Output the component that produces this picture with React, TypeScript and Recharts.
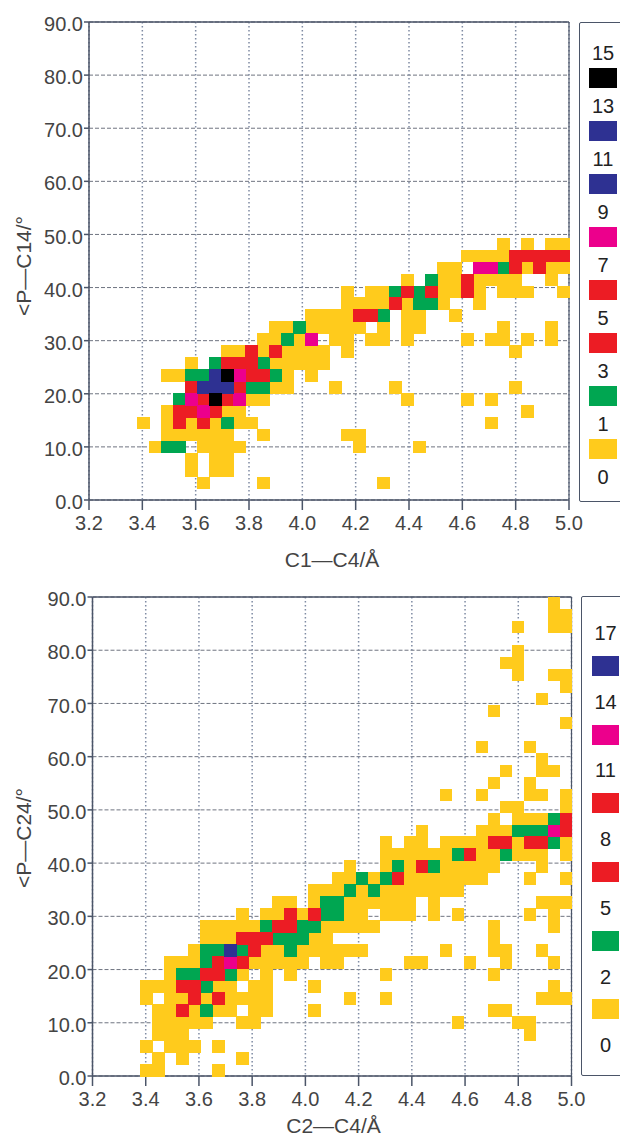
import { CartesianGrid, ReferenceLine, Scatter, ScatterChart, XAxis, YAxis } from "recharts"

type Run = [row: number, from: number, to: number, count: number]

const xTicks = [3.2, 3.4, 3.6, 3.8, 4.0, 4.2, 4.4, 4.6, 4.8, 5.0]
const yTicks = [0, 10, 20, 30, 40, 50, 60, 70, 80, 90]

const X_MIN = 3.2
const X_BIN = 0.045
const Y_BIN = 2.25

const YELLOW = "#ffcb1c"
const GREEN = "#00a651"
const RED = "#ec1c24"
const PINK = "#ec008c"
const BLUE = "#2e3192"
const BLACK = "#000000"

// legend of the upper plot, top to bottom
const topLegendLabels = [15, 13, 11, 9, 7, 5, 3, 1, 0]
const topLegendColors = [BLACK, BLUE, BLUE, PINK, RED, RED, GREEN, YELLOW]
const topLevels = [1, 3, 5, 9, 11, 15]
const topLevelColors = [YELLOW, GREEN, RED, PINK, BLUE, BLACK]

// legend of the lower plot
const bottomLegendLabels = [17, 14, 11, 8, 5, 2, 0]
const bottomLegendColors = [BLUE, PINK, RED, RED, GREEN, YELLOW]
const bottomLevels = [2, 5, 8, 14, 17]
const bottomLevelColors = [YELLOW, GREEN, RED, PINK, BLUE]

// histogram bins: row, first col, last col, count
const topRuns: Run[] = [
  [1, 9, 9, 1], [1, 14, 14, 1], [1, 24, 24, 1],
  [2, 8, 8, 1], [2, 10, 11, 1],
  [3, 8, 8, 1], [3, 10, 11, 1],
  [4, 5, 5, 1], [4, 6, 7, 3], [4, 9, 12, 1], [4, 22, 22, 1], [4, 27, 27, 1],
  [5, 6, 11, 1], [5, 14, 14, 1], [5, 21, 22, 1],
  [6, 4, 4, 1], [6, 6, 6, 1], [6, 7, 7, 5], [6, 8, 8, 1], [6, 9, 9, 5], [6, 10, 10, 1], [6, 11, 11, 3], [6, 12, 13, 1], [6, 33, 33, 1],
  [7, 6, 6, 1], [7, 7, 8, 5], [7, 9, 9, 9], [7, 10, 10, 5], [7, 11, 12, 1], [7, 36, 36, 1],
  [8, 7, 7, 3], [8, 8, 8, 9], [8, 9, 9, 5], [8, 10, 10, 15], [8, 11, 11, 5], [8, 12, 12, 9], [8, 13, 14, 1], [8, 26, 26, 1], [8, 31, 31, 1], [8, 33, 33, 1],
  [9, 8, 8, 5], [9, 9, 11, 11], [9, 12, 12, 5], [9, 13, 14, 3], [9, 15, 16, 1], [9, 20, 20, 1], [9, 25, 25, 1], [9, 35, 35, 1],
  [10, 6, 7, 1], [10, 8, 9, 3], [10, 10, 10, 11], [10, 11, 11, 15], [10, 12, 12, 9], [10, 13, 14, 5], [10, 15, 15, 3], [10, 16, 16, 1], [10, 18, 18, 1],
  [11, 8, 8, 1], [11, 10, 10, 3], [11, 11, 13, 5], [11, 14, 14, 3], [11, 15, 19, 1],
  [12, 11, 12, 1], [12, 13, 13, 5], [12, 14, 14, 1], [12, 15, 15, 5], [12, 16, 19, 1], [12, 21, 21, 1], [12, 35, 35, 1],
  [13, 14, 15, 1], [13, 16, 16, 3], [13, 17, 17, 1], [13, 18, 18, 9], [13, 20, 21, 1], [13, 23, 24, 1], [13, 26, 26, 1], [13, 31, 31, 1], [13, 33, 34, 1], [13, 36, 36, 1], [13, 38, 38, 1],
  [14, 15, 16, 1], [14, 17, 17, 3], [14, 18, 22, 1], [14, 24, 24, 1], [14, 26, 27, 1], [14, 34, 34, 1], [14, 38, 38, 1],
  [15, 18, 21, 1], [15, 22, 23, 5], [15, 24, 24, 3], [15, 26, 27, 1], [15, 30, 30, 1],
  [16, 21, 24, 1], [16, 25, 25, 5], [16, 26, 26, 1], [16, 27, 28, 3], [16, 29, 29, 1], [16, 32, 32, 1],
  [17, 21, 21, 1], [17, 23, 24, 1], [17, 25, 25, 3], [17, 26, 26, 5], [17, 27, 27, 3], [17, 28, 28, 5], [17, 29, 30, 1], [17, 31, 31, 5], [17, 32, 32, 1], [17, 34, 36, 1], [17, 39, 39, 1],
  [18, 26, 26, 1], [18, 28, 28, 3], [18, 29, 30, 1], [18, 31, 31, 5], [18, 32, 35, 1], [18, 38, 38, 1],
  [19, 29, 30, 1], [19, 32, 33, 9], [19, 34, 34, 3], [19, 35, 35, 5], [19, 36, 36, 1], [19, 37, 37, 5], [19, 38, 39, 1],
  [20, 31, 34, 1], [20, 35, 39, 5],
  [21, 34, 34, 1], [21, 36, 36, 1], [21, 38, 39, 1],
]

const bottomRuns: Run[] = [
  [0, 4, 5, 2], [0, 10, 10, 2],
  [1, 5, 5, 2], [1, 7, 7, 2], [1, 12, 12, 2],
  [2, 4, 4, 2], [2, 6, 8, 2], [2, 10, 10, 2],
  [3, 5, 7, 2], [3, 36, 36, 2],
  [4, 5, 9, 2], [4, 12, 13, 2], [4, 30, 30, 2], [4, 35, 36, 2],
  [5, 5, 6, 2], [5, 7, 7, 8], [5, 8, 8, 2], [5, 9, 9, 5], [5, 10, 11, 2], [5, 13, 14, 2], [5, 18, 18, 2], [5, 33, 34, 2],
  [6, 4, 4, 2], [6, 6, 7, 2], [6, 8, 8, 8], [6, 9, 9, 2], [6, 10, 10, 8], [6, 11, 14, 2], [6, 21, 21, 2], [6, 24, 24, 2], [6, 37, 39, 2],
  [7, 4, 6, 2], [7, 7, 8, 8], [7, 9, 9, 5], [7, 10, 11, 2], [7, 13, 14, 2], [7, 18, 18, 2], [7, 38, 38, 2],
  [8, 6, 6, 2], [8, 7, 8, 5], [8, 9, 10, 8], [8, 11, 11, 5], [8, 12, 12, 2], [8, 14, 14, 2], [8, 16, 16, 2], [8, 24, 24, 2], [8, 33, 33, 2],
  [9, 6, 8, 2], [9, 9, 9, 5], [9, 10, 10, 8], [9, 11, 11, 14], [9, 12, 12, 8], [9, 13, 17, 2], [9, 19, 20, 2], [9, 26, 27, 2], [9, 31, 31, 2], [9, 34, 34, 2], [9, 38, 38, 2],
  [10, 8, 8, 2], [10, 9, 10, 5], [10, 11, 11, 17], [10, 12, 12, 5], [10, 13, 13, 8], [10, 14, 15, 2], [10, 16, 16, 5], [10, 17, 22, 2], [10, 29, 29, 2], [10, 33, 34, 2], [10, 37, 37, 2],
  [11, 9, 11, 2], [11, 12, 14, 8], [11, 15, 17, 5], [11, 18, 19, 2], [11, 33, 33, 2],
  [12, 9, 13, 2], [12, 14, 14, 5], [12, 15, 16, 8], [12, 17, 18, 5], [12, 19, 23, 2], [12, 33, 33, 2], [12, 38, 38, 2],
  [13, 12, 12, 2], [13, 14, 15, 2], [13, 16, 16, 8], [13, 17, 17, 2], [13, 18, 18, 8], [13, 19, 20, 5], [13, 21, 22, 2], [13, 24, 26, 2], [13, 28, 28, 2], [13, 30, 30, 2], [13, 36, 36, 2], [13, 38, 38, 2],
  [14, 15, 16, 2], [14, 18, 18, 2], [14, 19, 20, 5], [14, 21, 26, 2], [14, 28, 28, 2], [14, 37, 39, 2],
  [15, 18, 20, 2], [15, 21, 21, 5], [15, 22, 22, 2], [15, 23, 23, 5], [15, 24, 30, 2],
  [16, 20, 21, 2], [16, 22, 22, 5], [16, 23, 23, 2], [16, 24, 24, 5], [16, 25, 25, 8], [16, 26, 32, 2], [16, 36, 36, 2], [16, 39, 39, 2],
  [17, 21, 21, 2], [17, 24, 24, 2], [17, 25, 25, 5], [17, 26, 26, 2], [17, 27, 27, 8], [17, 28, 28, 5], [17, 29, 33, 2], [17, 37, 37, 2],
  [18, 24, 29, 2], [18, 30, 30, 5], [18, 31, 31, 8], [18, 32, 33, 2], [18, 34, 34, 5], [18, 35, 37, 2], [18, 39, 39, 2],
  [19, 24, 24, 2], [19, 26, 27, 2], [19, 29, 32, 2], [19, 33, 34, 8], [19, 35, 35, 2], [19, 36, 37, 8], [19, 38, 38, 5], [19, 39, 39, 2],
  [20, 27, 27, 2], [20, 32, 34, 2], [20, 35, 37, 5], [20, 38, 38, 14], [20, 39, 39, 8],
  [21, 33, 33, 2], [21, 35, 37, 2], [21, 38, 38, 5], [21, 39, 39, 8],
  [22, 34, 35, 2], [22, 39, 39, 2],
  [23, 29, 29, 2], [23, 32, 32, 2], [23, 36, 37, 2], [23, 39, 39, 2],
  [24, 33, 33, 2], [24, 36, 36, 2],
  [25, 34, 34, 2], [25, 37, 38, 2],
  [26, 37, 37, 2],
  [27, 32, 32, 2], [27, 36, 36, 2],
  [29, 39, 39, 2],
  [30, 33, 33, 2],
  [31, 37, 37, 2],
  [32, 39, 39, 2],
  [33, 35, 35, 2], [33, 38, 39, 2],
  [34, 34, 35, 2],
  [35, 35, 35, 2],
  [37, 35, 35, 2], [37, 38, 39, 2],
  [38, 38, 39, 2],
  [39, 38, 38, 2],
]

function pointsFor(runs: Run[], level: number, yShift: number) {
  const out: { x: number; y: number }[] = []
  runs.forEach(([row, from, to, count]) => {
    if (count !== level) return
    for (let c = from; c <= to; c++) {
      out.push({ x: X_MIN + X_BIN * (c + 0.5), y: Y_BIN * row + yShift })
    }
  })
  return out
}

function BinCell(props: any) {
  const { cx, cy, fill } = props
  return <rect x={cx - 6} y={cy - 6} width={12.5} height={12.5} fill={fill} shapeRendering="crispEdges" />
}

const AXIS = "#4b5568"
const TEXT = "#444444"

interface PanelProps {
  top: number
  left: number
  plotWidth: number
  plotHeight: number
  runs: Run[]
  levels: number[]
  levelColors: string[]
  yShift: number
  xTitle: string
  yTitle: string
  xTitleOffset: number
  xTitleDx: number
  yTitleCenter: number
}

function Panel({ top, left, plotWidth, plotHeight, runs, levels, levelColors, yShift, xTitle, yTitle, xTitleOffset, xTitleDx, yTitleCenter }: PanelProps) {
  return (
    <div style={{ position: "absolute", left: 0, top }}>
      <ScatterChart
        width={620}
        height={22 + plotHeight + 76}
        margin={{ top: 22, right: 620 - left - plotWidth, bottom: 0, left: left - 60 }}
      >
        <CartesianGrid horizontal vertical={false} stroke="#6f7480" strokeDasharray="4 2" strokeWidth={1} />
        <CartesianGrid horizontal={false} vertical stroke="#7f8ba3" strokeDasharray="1.5 2.5" strokeWidth={1.5} />
        <XAxis
          type="number"
          dataKey="x"
          domain={[3.2, 5.0]}
          ticks={xTicks}
          tickFormatter={(v: number) => v.toFixed(1)}
          tick={{ fontSize: 20, fill: TEXT }}
          tickSize={10}
          tickMargin={6}
          height={76}
          stroke={AXIS}
          strokeWidth={1.5}
          interval={0}
          label={{ value: xTitle, position: "insideBottom", offset: xTitleOffset, dx: xTitleDx, fontSize: 21, fill: TEXT }}
        />
        <YAxis
          type="number"
          dataKey="y"
          domain={[0, 90]}
          ticks={yTicks}
          tickFormatter={(v: number) => v.toFixed(1)}
          tick={{ fontSize: 20, fill: TEXT, dy: 2 }}
          tickSize={5}
          tickMargin={1}
          width={60}
          stroke={AXIS}
          strokeWidth={1.5}
          interval={0}
        />
        <ReferenceLine y={90} stroke={AXIS} strokeWidth={1.5} />
        <ReferenceLine x={5} stroke={AXIS} strokeWidth={1.2} />
        {levels.map((level, i) => (
          <Scatter
            key={level}
            data={pointsFor(runs, level, yShift)}
            fill={levelColors[i]}
            shape={BinCell}
            isAnimationActive={false}
          />
        ))}
      </ScatterChart>
      <div
        style={{
          position: "absolute",
          left: 24,
          top: yTitleCenter,
          transform: "translate(-50%, -50%) rotate(-90deg)",
          whiteSpace: "nowrap",
          fontSize: 21,
          color: TEXT,
        }}
      >
        {yTitle}
      </div>
    </div>
  )
}

interface LegendProps {
  left: number
  top: number
  height: number
  labels: number[]
  colors: string[]
  firstText: number
  step: number
  swatchLeft: number
  swatchWidth: number
}

function LegendBox({ left, top, height, labels, colors, firstText, step, swatchLeft, swatchWidth }: LegendProps) {
  return (
    <>
      <div
        style={{
          position: "absolute",
          left,
          top,
          width: 100,
          height,
          border: `1.5px solid ${AXIS}`,
          borderRadius: 2,
          background: "#fff",
        }}
      />
      {labels.map((label, i) => (
        <div
          key={label}
          style={{
            position: "absolute",
            left: swatchLeft - 10,
            width: swatchWidth + 20,
            top: firstText + step * i - 11,
            lineHeight: "22px",
            textAlign: "center",
            fontSize: 20,
            color: "#222",
          }}
        >
          {label}
        </div>
      ))}
      {colors.map((color, i) => (
        <div
          key={i}
          style={{
            position: "absolute",
            left: swatchLeft,
            width: swatchWidth,
            top: firstText + step * i + step / 2 - 11.5,
            height: 20,
            background: color,
          }}
        />
      ))}
    </>
  )
}

export default function App() {
  return (
    <div
      style={{
        position: "absolute",
        left: 0,
        top: 0,
        width: 620,
        height: 1137,
        overflow: "hidden",
        background: "#fff",
        fontFamily: "'Liberation Sans', Arial, sans-serif",
      }}
    >
      <Panel
        top={0}
        left={89}
        plotWidth={480}
        plotHeight={478}
        runs={topRuns}
        levels={topLevels}
        levelColors={topLevelColors}
        yShift={1.0}
        xTitle="C1—C4/Å"
        yTitle="<P—C14/°"
        xTitleOffset={9}
        xTitleDx={3}
        yTitleCenter={266}
      />
      <Panel
        top={575}
        left={92.5}
        plotWidth={479}
        plotHeight={479}
        runs={bottomRuns}
        levels={bottomLevels}
        levelColors={bottomLevelColors}
        yShift={1.125}
        xTitle="C2—C4/Å"
        yTitle="<P—C24/°"
        xTitleOffset={19}
        xTitleDx={1.5}
        yTitleCenter={263}
      />
      <LegendBox
        left={578.5}
        top={22}
        height={478}
        labels={topLegendLabels}
        colors={topLegendColors}
        firstText={53}
        step={53}
        swatchLeft={589}
        swatchWidth={28}
      />
      <LegendBox
        left={581}
        top={596}
        height={478}
        labels={bottomLegendLabels}
        colors={bottomLegendColors}
        firstText={633}
        step={68.7}
        swatchLeft={592}
        swatchWidth={27}
      />
    </div>
  )
}
